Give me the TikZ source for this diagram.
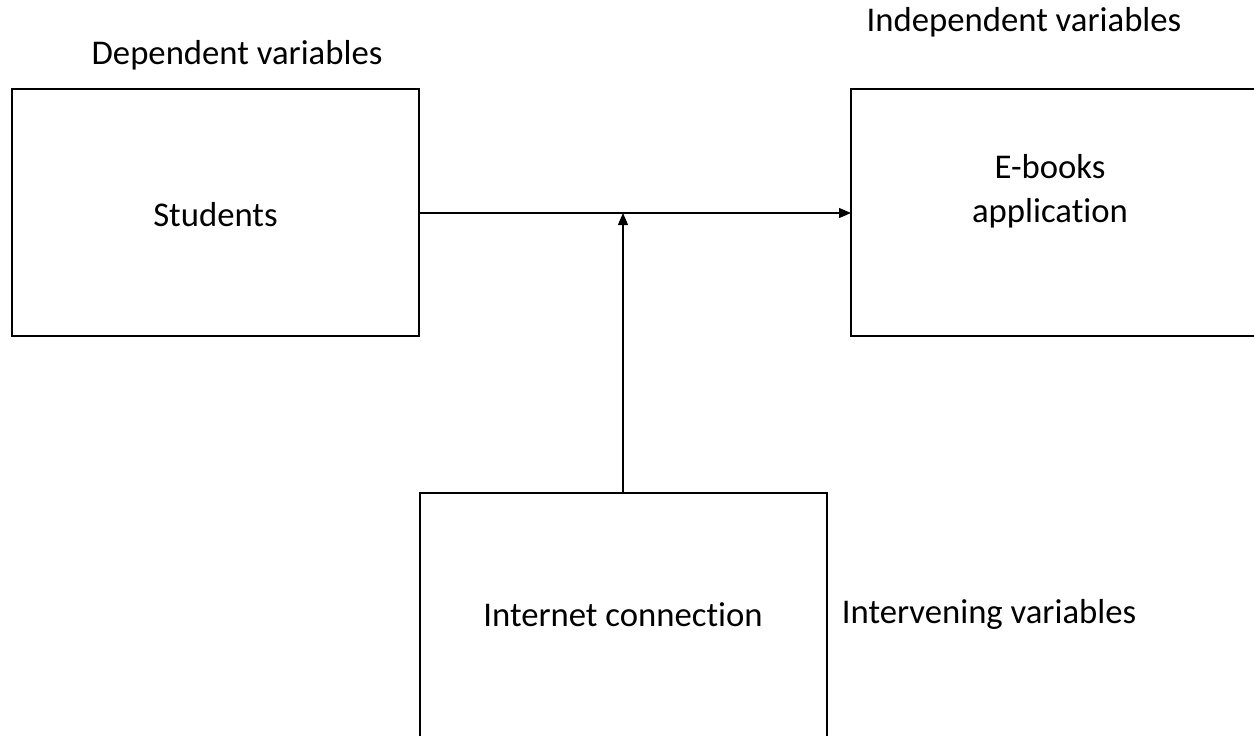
\documentclass[tikz,border=0pt]{standalone}
\usepackage{fontspec}
\setmainfont{Carlito}[Ligatures=CommonOff]
\usetikzlibrary{arrows.meta}
\begin{document}
\begin{tikzpicture}[x=1pt,y=-1pt,
  box/.style={draw,line width=2pt},
  lbl/.style={font=\fontsize{34.7}{44}\selectfont,inner sep=0pt},
  link/.style={line width=1.2pt,-{Triangle[length=12pt,width=10pt]}}]
\useasboundingbox (0,0) rectangle (1254,736);
\clip (0,0) rectangle (1254,736);
% boxes
\draw[box] (12,89) rectangle (419,336);
\draw[box] (851,89) rectangle (1270,336);
\draw[box] (419.5,493) rectangle (827,760);
% box texts
\node[lbl] (stu) at (215.5,215) {Students};
\node[lbl,align=center] (ebk) at (1050,191) {E-books\\application};
\node[lbl] (net) at (623,615) {Internet connection};
% headings
\node[lbl] (dep) at (237,55) {Dependent variables};
\node[lbl] (ind) at (1024,22) {Independent variables};
\node[lbl] (itv) at (989,614) {Intervening variables};
% connectors
\coordinate (sR) at (419,213);
\coordinate (eL) at (851,213);
\coordinate (mid) at (623,213);
\coordinate (nT) at (623,493);
\draw[link] (sR) -- (eL);
\draw[link] (nT) -- (mid);
\end{tikzpicture}
\end{document}
